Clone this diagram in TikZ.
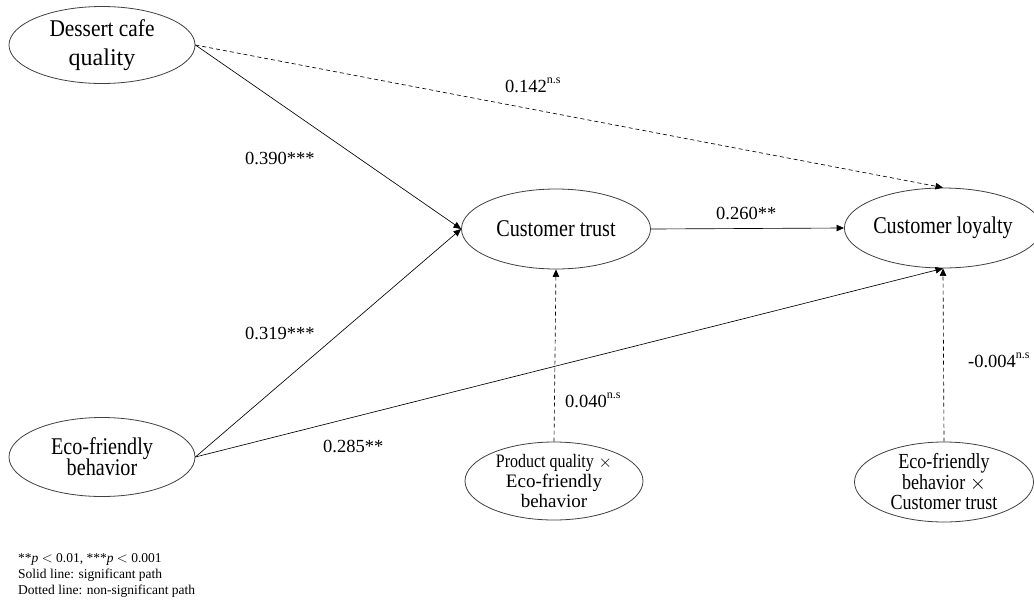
\documentclass[tikz,border=0pt]{standalone}
\usepackage{fontspec}
\setmainfont{Liberation Serif}
\newfontfamily\condA[FakeStretch=0.89]{Liberation Serif}
\newfontfamily\condB[FakeStretch=0.84]{Liberation Serif}
\usetikzlibrary{shapes.geometric,arrows.meta}
\newcommand{\nsup}{\raisebox{0.48em}{\fontsize{12}{12}\selectfont n.s}}
\newcommand{\tightlines}{\lineskiplimit=-30pt\relax}
\begin{document}
\begin{tikzpicture}[x=1pt,y=-1pt,
  var/.style={draw=black!75, line width=0.8pt, ellipse, inner sep=0pt, align=center},
  lbl/.style={font=\fontsize{18.5}{22}\selectfont, inner sep=0pt, anchor=base west},
  arr/.style={-{Triangle[length=7.5pt,width=6.5pt]}, line width=0.65pt},
  ns/.style={arr, dash pattern=on 4pt off 3pt}]
\useasboundingbox[fill=white] (0,0) rectangle (1034,603);

\node[var, minimum width=186pt, minimum height=77pt, font=\fontsize{24}{29}\selectfont\tightlines] (dq) at (102,45) {{\condA Dessert cafe}\\quality};
\node[var, minimum width=186pt, minimum height=79pt, font=\condB\fontsize{24}{21}\selectfont\tightlines] (eb) at (102,457) {Eco-friendly\\behavior};
\node[var, minimum width=189pt, minimum height=80pt, font=\condB\fontsize{24}{28}\selectfont] (ct) at (556,229) {Customer trust};
\node[var, minimum width=180pt, minimum height=80pt, font=\condB\fontsize{24}{28}\selectfont] (cl) at (943,228) {Customer loyalty};
\node[var, minimum width=178pt, minimum height=78pt, font=\fontsize{19}{20}\selectfont\tightlines] (pq) at (554,481) {{\condB Product quality} $\times$\\Eco-friendly\\behavior};
\node[var, minimum width=179pt, minimum height=80pt, font=\condB\fontsize{21.5}{20.5}\selectfont\tightlines] (et) at (944,482) {Eco-friendly\\behavior $\times$\\Customer trust};

\draw[ns] (dq.east) -- (cl.north);
\draw[arr] (dq.east) -- (ct.west);
\draw[arr] (eb.east) -- (ct.west);
\draw[arr] (eb.east) -- (cl.south);
\draw[arr] (ct.east) -- (cl.west);
\draw[ns] (pq.north) -- (ct.south);
\draw[ns] (et.north) -- (cl.south);

\node[lbl] (l1) at (505,92) {0.142\nsup};
\node[lbl] (l2) at (245,164) {0.390***};
\node[lbl] (l3) at (245,339) {0.319***};
\node[lbl] (l4) at (716,219) {0.260**};
\node[lbl] (l5) at (323,452) {0.285**};
\node[lbl] (l6) at (565,407) {0.040\nsup};
\node[lbl] (l7) at (968,367) {-0.004\nsup};

\node[anchor=base west, inner sep=0pt, align=left, font=\fontsize{13.5}{16}\selectfont] (leg) at (18,594)
  {**\textit{p} $<$ 0.01, ***\textit{p} $<$ 0.001\\Solid line: significant path\\Dotted line: non-significant path};
\end{tikzpicture}
\end{document}
